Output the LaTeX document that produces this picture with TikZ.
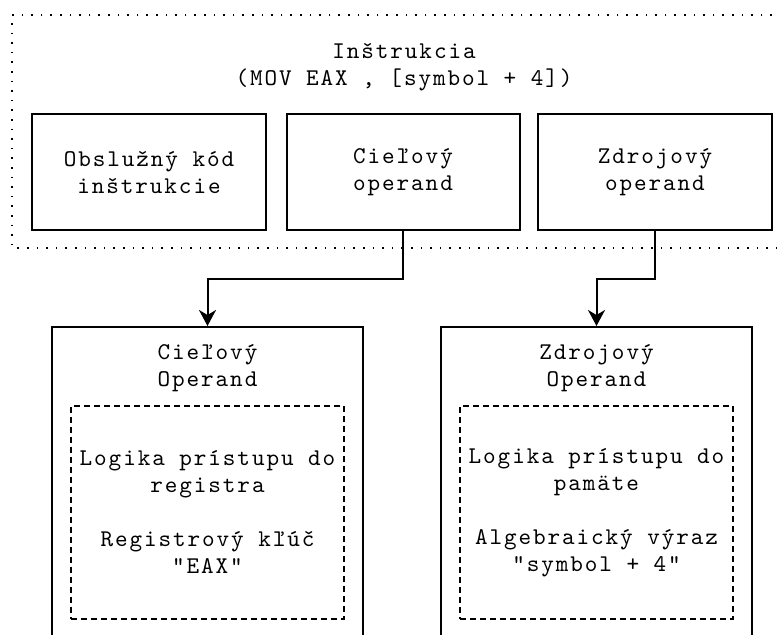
\documentclass[tikz,border=0pt]{standalone}
\usepackage{fontspec}
\setmonofont{lmmono10-regular.otf}[LetterSpace=8]
\usetikzlibrary{arrows.meta}
\newcommand{\dq}{\char34\relax}
\begin{document}
\begin{tikzpicture}[x=1pt,y=-1pt,
  font=\ttfamily\fontsize{24}{27}\selectfont,
  box/.style={draw, line width=2pt, align=center, inner sep=0pt},
  plain/.style={align=center, inner sep=0pt},
  inner/.style={draw, line width=2pt, dash pattern=on 6pt off 4pt, align=center, inner sep=0pt,
    minimum width=273pt, minimum height=213pt},
  link/.style={line width=2pt, -{Stealth[length=16pt,width=17pt,inset=5pt]}}
]
\useasboundingbox (0,0) rectangle (780,635);
\clip (0,0) rectangle (780,635);

% instruction frame (open to the right)
\draw[line width=1.6pt, dash pattern=on 1.6pt off 8pt] (820,15) -- (12,15) -- (12,248) -- (820,248);
\node[plain] (title) at (404,67) {Inštrukcia\\(MOV EAX , [symbol + 4])};

% instruction fields
\node[box, minimum width=234pt, minimum height=116pt] (opcode) at (149,172) {Obslužný kód\\inštrukcie};
\node[box, minimum width=233pt, minimum height=116pt] (dst) at (403,172) {Cieľový\\operand};
\node[box, minimum width=234pt, minimum height=116pt] (src) at (655,172) {Zdrojový\\operand};

% operand details
\node[box, minimum width=311pt, minimum height=340pt] (dstbox) at (207.5,497) {};
\node[plain] (dsttitle) at (207.5,368) {Cieľový\\Operand};
\node[inner] (dstlogic) at (207.5,512.5) {Logika prístupu do\\registra\\[27pt]Registrový kľúč\\\dq EAX\dq};

\node[box, minimum width=311pt, minimum height=340pt] (srcbox) at (596.5,497) {};
\node[plain] (srctitle) at (596.5,368) {Zdrojový\\Operand};
\node[inner] (srclogic) at (596.5,512.5) {Logika prístupu do\\pamäte\\[27pt]Algebraický výraz\\\dq symbol + 4\dq};

% connectors
\coordinate (dstbend) at (403,279);
\coordinate (srcbend) at (655,279);
\draw[link] (dst.south) -- (dstbend) -| (dstbox.north);
\draw[link] (src.south) -- (srcbend) -| (srcbox.north);
\end{tikzpicture}
\end{document}
